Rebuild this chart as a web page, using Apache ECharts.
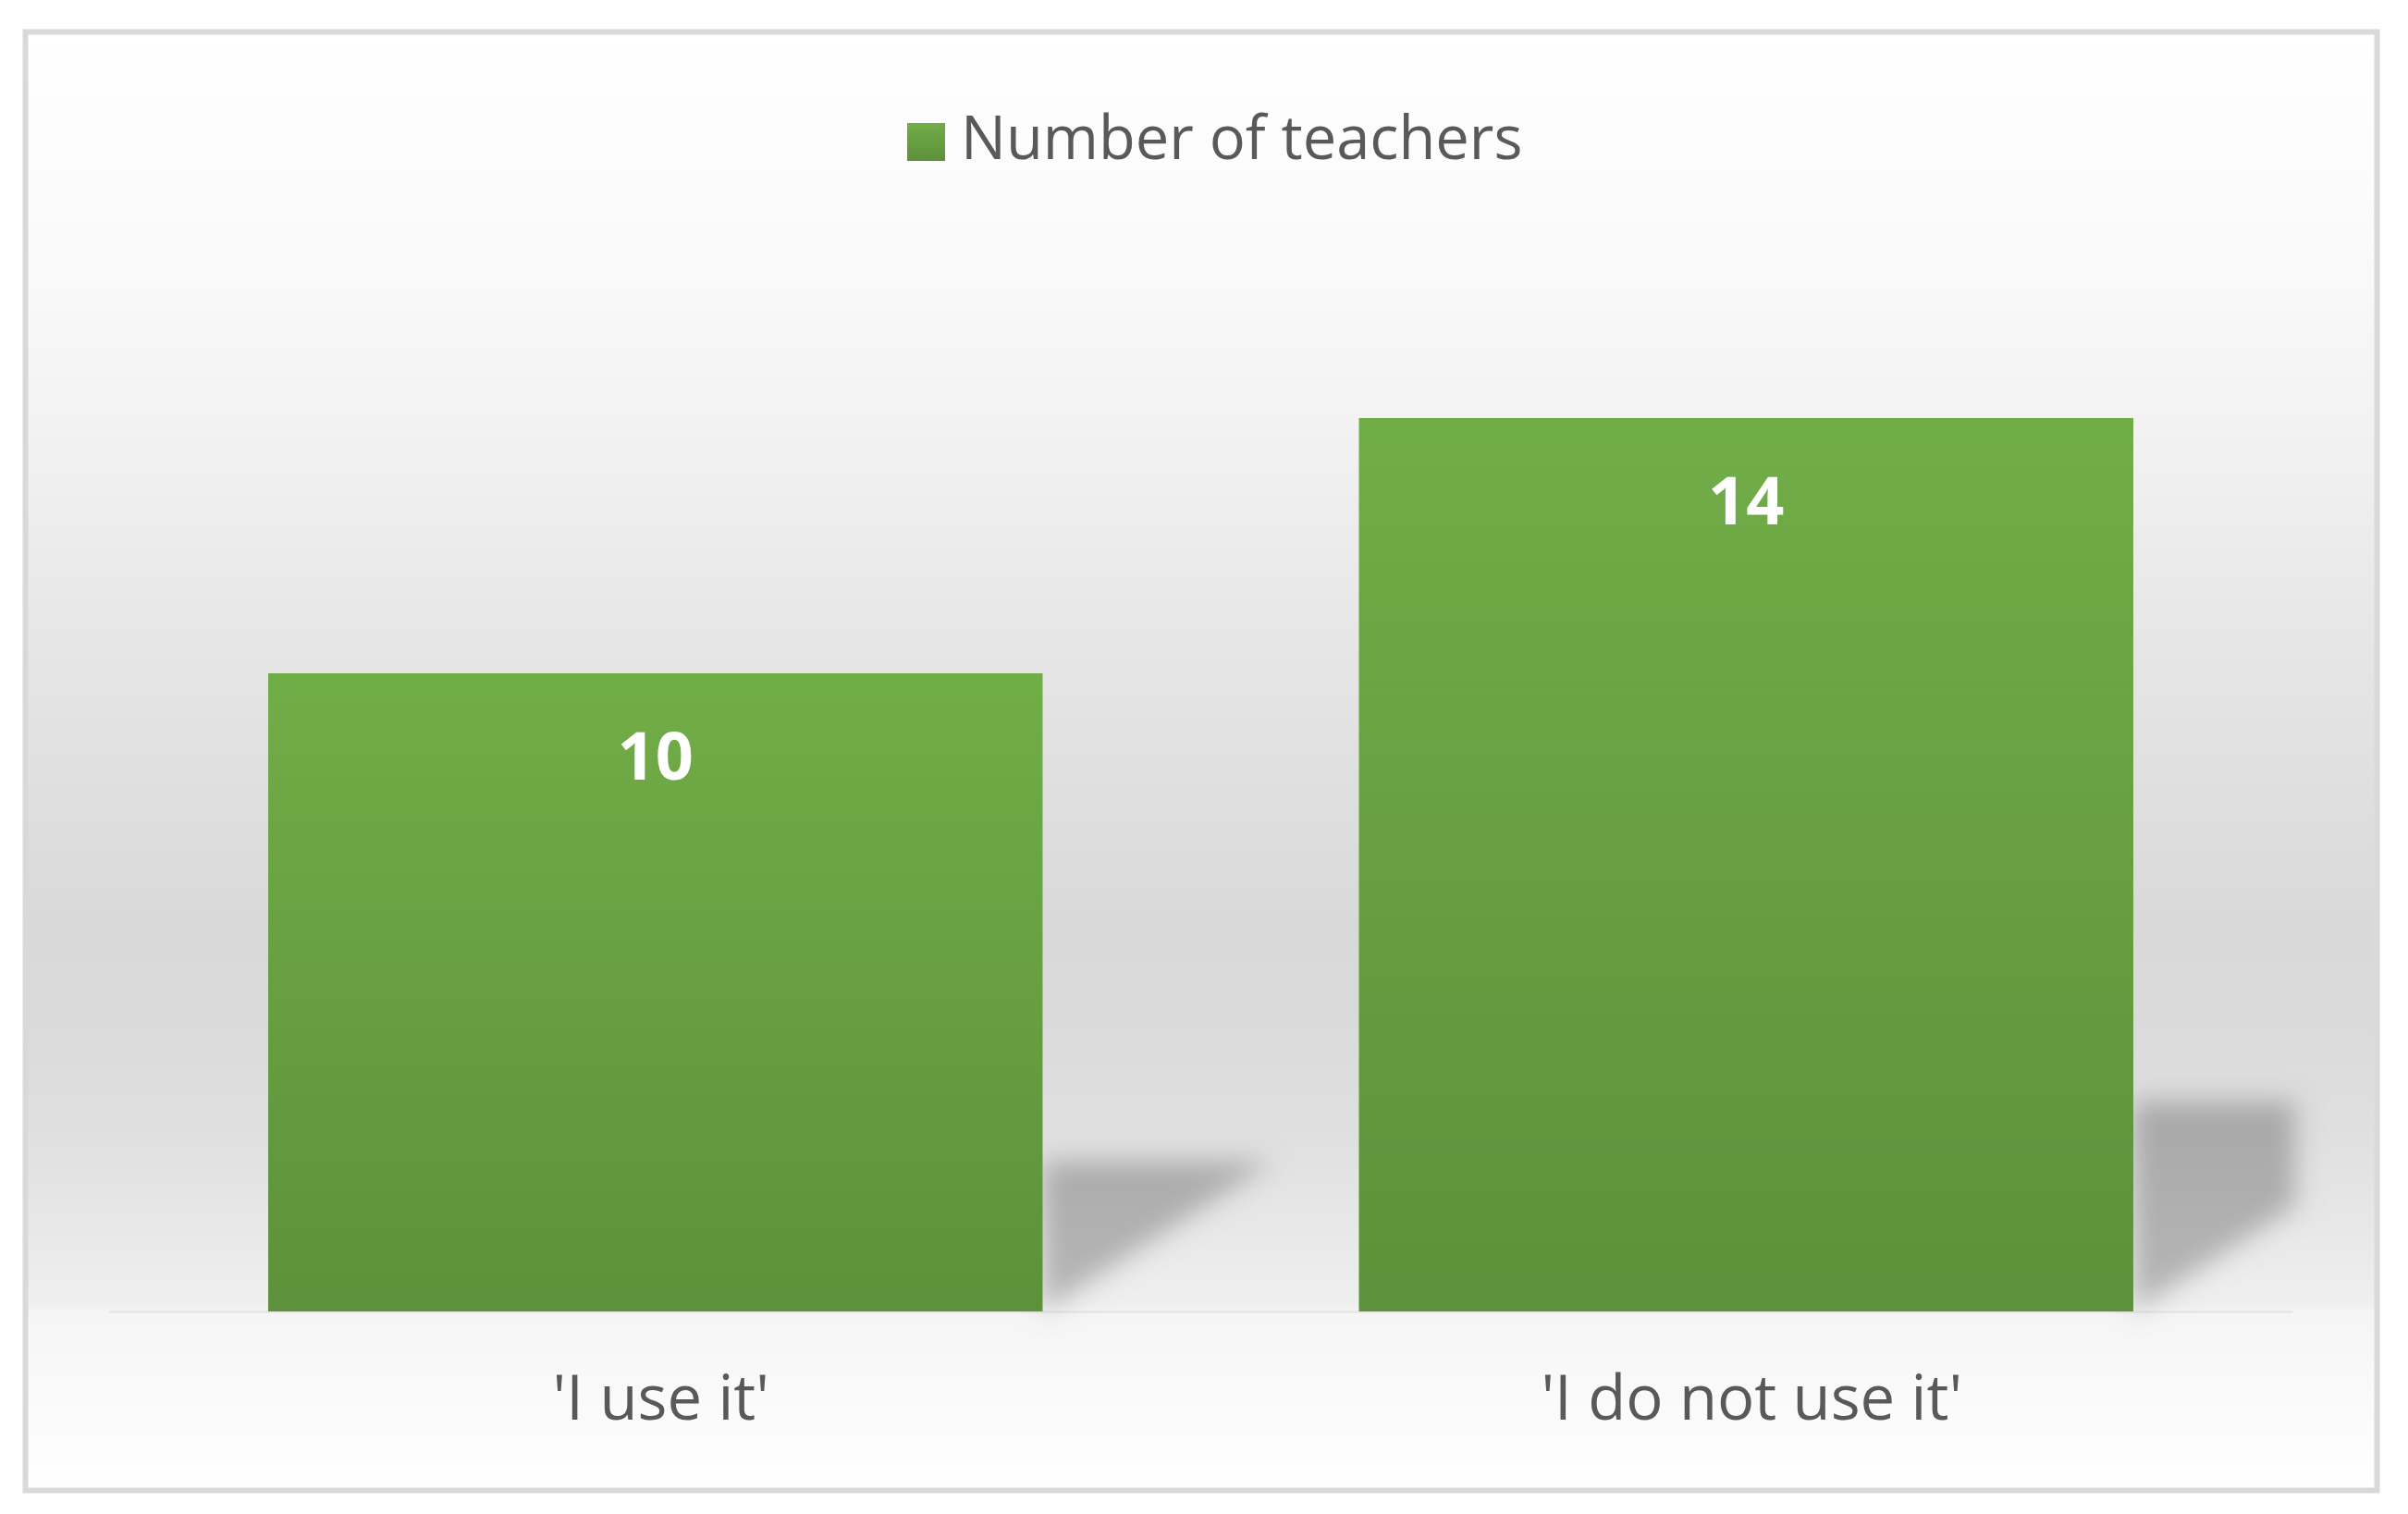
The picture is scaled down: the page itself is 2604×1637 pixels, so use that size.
<!DOCTYPE html>
<html>
<head>
<meta charset="utf-8">
<title>Number of teachers</title>
<script src="https://cdn.jsdelivr.net/npm/echarts/dist/echarts.min.js"></script>
<style>
  html, body { margin: 0; padding: 0; background: #fff; }
  #chart { width: 2604px; height: 1637px; }
</style>
</head>
<body>
<div id="chart"></div>
<script>
var categories = ["'I use it'", "'I do not use it'"];
var teachers = [10, 14];
var seriesName = 'Number of teachers';

var OFF = 10000;   // shadow shape drawn off screen, only its blur is shown

function renderShadow(params, api){
    var base = api.coord([api.value(0), 0]);
    var top = api.coord([api.value(0), api.value(1)]);
    var band = api.size([1, 0])[0];
    var xr = base[0] + band * 0.71 / 2;
    var h = base[1] - top[1];
    var yt = base[1] - h * 0.235;
    var dx = h * 0.36;
    var xmax = params.coordSys.x + params.coordSys.width + 4;
    var pts;
    if (xr + dx <= xmax) {
        pts = [[xr, base[1]], [xr, yt], [xr + dx, yt]];
    } else {
        var t = (xmax - xr) / dx;
        pts = [[xr, base[1]], [xr, yt], [xmax, yt], [xmax, base[1] - (base[1] - yt) * t]];
    }
    pts = pts.map(function(p){ return [p[0] - OFF, p[1]]; });
    return {
        type: 'polygon',
        shape: { points: pts },
        style: {
            fill: '#000',
            shadowBlur: 28,
            shadowOffsetX: OFF,
            shadowColor: 'rgba(0,0,0,0.24)'
        },
        silent: true
    };
}

var chart = echarts.init(document.getElementById('chart'));
var option = {
    backgroundColor: '#fff',
    animation: false,
    graphic: [{
        type: 'rect',
        z: -10,
        silent: true,
        shape: { x: 27.5, y: 34.5, width: 2543, height: 1577 },
        style: {
            stroke: '#d9d9d9',
            lineWidth: 6,
            fill: new echarts.graphic.LinearGradient(0, 0, 0, 1, [
                { offset: 0, color: '#ffffff' },
                { offset: 0.17, color: '#f9f9f9' },
                { offset: 0.30, color: '#f0f0f0' },
                { offset: 0.42, color: '#e6e6e6' },
                { offset: 0.61, color: '#d9d9d9' },
                { offset: 0.675, color: '#dadada' },
                { offset: 0.76, color: '#e0e0e0' },
                { offset: 0.872, color: '#efefef' },
                { offset: 0.876, color: '#f5f5f5' },
                { offset: 1, color: '#ffffff' }
            ])
        }
    }],
    legend: {
        data: [seriesName],
        left: 976,
        top: 116,
        itemWidth: 41,
        itemHeight: 41,
        icon: 'rect',
        textStyle: {
            fontFamily: 'Open Sans',
            fontSize: 65,
            color: '#595959',
            padding: [0, 0, 0, 12]
        }
    },
    grid: {
        left: 119,
        width: 2359,
        top: 314,
        height: 1104
    },
    xAxis: {
        type: 'category',
        data: categories,
        axisLine: { show: true, lineStyle: { color: '#e8e8e8', width: 3 } },
        axisTick: { show: false },
        axisLabel: {
            fontFamily: 'Open Sans',
            fontSize: 67,
            lineHeight: 67,
            color: '#595959',
            margin: 64,
            padding: [0, 0, 0, 12]
        }
    },
    yAxis: {
        type: 'value',
        min: 0,
        max: 16,
        show: false,
        splitLine: { show: false }
    },
    series: [
        {
            type: 'custom',
            name: 'shadow',
            z: 1,
            renderItem: renderShadow,
            data: teachers.map(function(v, i){ return [i, v]; })
        },
        {
            name: seriesName,
            type: 'bar',
            z: 2,
            barCategoryGap: '29%',
            data: teachers,
            itemStyle: {
                color: new echarts.graphic.LinearGradient(0, 0, 0, 1, [
                    { offset: 0, color: '#71ad47' },
                    { offset: 1, color: '#5d913b' }
                ])
            },
            label: {
                show: true,
                position: 'insideTop',
                distance: 58,
                fontFamily: 'Open Sans',
                fontWeight: 'bold',
                fontSize: 72,
                lineHeight: 72,
                color: '#fff'
            }
        }
    ]
};
chart.setOption(option);
</script>
</body>
</html>
